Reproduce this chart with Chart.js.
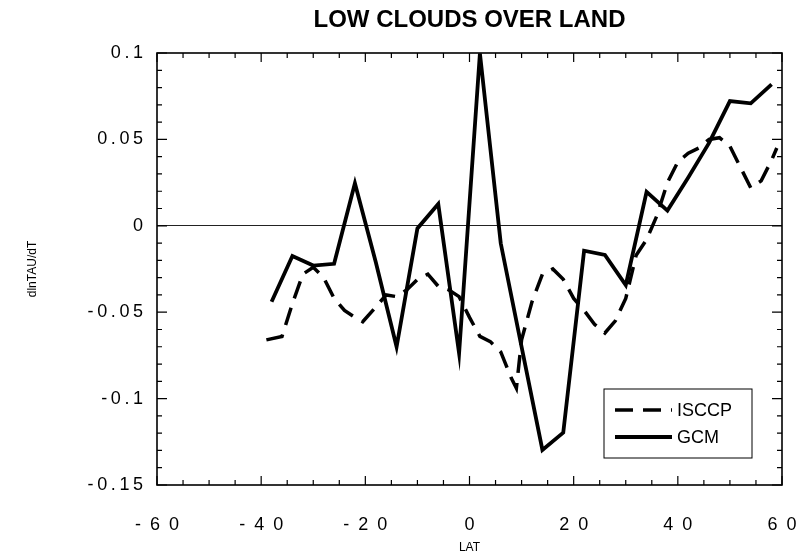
<!DOCTYPE html>
<html>
<head>
<meta charset="utf-8">
<script src="https://cdn.jsdelivr.net/npm/chart.js@4/dist/chart.umd.min.js"></script>
<style>
  html, body { margin: 0; padding: 0; background: #fff; }
  #wrap { width: 805px; height: 560px; }
</style>
</head>
<body>
<div id="wrap"><canvas id="cloudChart"></canvas></div>
<script>
// GCM, every 4 degrees of latitude
const gcmLat = [-38, -34, -30, -26, -22, -18, -14, -10, -6, -2, 2, 6, 10, 14, 18, 22, 26, 30, 34, 38, 42, 46, 50, 54, 58];
const gcmVal = [-0.044, -0.0175, -0.023, -0.022, 0.0246, -0.021, -0.070, -0.0015, 0.0126, -0.0738, 0.0998, -0.0101, -0.070, -0.1297, -0.1197,
	-0.0144, -0.0169, -0.0343, 0.0197, 0.0088, 0.028, 0.048, 0.0722, 0.0709, 0.0818];
// ISCCP
const isccpLat = [-39, -36, -34, -32, -30, -28, -26, -24, -22, -20.5, -18, -16, -14, -12, -10, -8, -6, -4, -2, 0, 2, 4, 6, 8, 9,
	10, 12, 14, 16, 18, 20, 22, 24, 26, 28, 30, 32, 34, 36, 38, 40, 42, 44, 46, 48, 50, 52, 54, 56, 58, 59];
const isccpVal = [-0.066, -0.064, -0.045, -0.028, -0.024, -0.030, -0.042, -0.049, -0.053, -0.0555, -0.047, -0.040, -0.041, -0.037, -0.031,
	-0.028, -0.035, -0.037, -0.041, -0.053, -0.064, -0.067, -0.073, -0.088, -0.094,
	-0.066, -0.044, -0.028, -0.025, -0.031, -0.042, -0.049, -0.057, -0.062, -0.055, -0.042, -0.017, -0.008, 0.006, 0.025,
	0.037, 0.042, 0.045, 0.050, 0.051, 0.046, 0.034, 0.022, 0.026, 0.038, 0.045];
const xTicks = [-60, -40, -20, 0, 20, 40, 60];
const yTicks = [-0.15, -0.1, -0.05, 0, 0.05, 0.1];

const FONT = "'Liberation Sans', Arial, Helvetica, sans-serif";

function pairs(xs, ys){
	return xs.map((v, i) => ({x: v, y: ys[i]}));
}

// inward tick marks on all four sides plus the frame
const frameTicks = {
	id: 'frameTicks',
	afterDatasetsDraw(chart){
		const ctx = chart.ctx, a = chart.chartArea;
		const x = chart.scales.x, y = chart.scales.y;
		ctx.save();
		ctx.strokeStyle = '#000';
		ctx.lineWidth = 1.2;
		ctx.beginPath();
		for (let v = xTicks[0]; v <= xTicks[xTicks.length - 1]; v += 5) {
			const px = x.getPixelForValue(v);
			const len = v % 20 === 0 ? 9 : 5;
			ctx.moveTo(px, a.bottom); ctx.lineTo(px, a.bottom - len);
			ctx.moveTo(px, a.top); ctx.lineTo(px, a.top + len);
		}
		for (let i = 0; i <= 25; i++) {
			const py = y.getPixelForValue(yTicks[0] + i * 0.01);
			const len = i % 5 === 0 ? 10 : 5;
			ctx.moveTo(a.left, py); ctx.lineTo(a.left + len, py);
			ctx.moveTo(a.right, py); ctx.lineTo(a.right - len, py);
		}
		ctx.stroke();
		ctx.lineWidth = 1.6;
		ctx.strokeRect(a.left, a.top, a.right - a.left, a.bottom - a.top);
		ctx.restore();
	}
};

// boxed legend in the lower right corner of the plot
const boxLegend = {
	id: 'boxLegend',
	afterDraw(chart){
		const ctx = chart.ctx, a = chart.chartArea;
		const bx = a.right - 178, by = a.bottom - 96, bw = 148, bh = 69;
		ctx.save();
		ctx.fillStyle = '#fff';
		ctx.fillRect(bx, by, bw, bh);
		ctx.strokeStyle = '#000';
		ctx.lineWidth = 1;
		ctx.strokeRect(bx, by, bw, bh);
		ctx.font = '18px ' + FONT;
		ctx.textBaseline = 'middle';
		ctx.fillStyle = '#000';
		chart.data.datasets.forEach((ds, i) => {
			const ly = by + 21 + i * 27;
			ctx.beginPath();
			ctx.lineWidth = ds.borderWidth;
			ctx.setLineDash(ds.borderDash || []);
			ctx.moveTo(bx + 11, ly);
			ctx.lineTo(bx + 68, ly);
			ctx.stroke();
			ctx.setLineDash([]);
			ctx.fillText(ds.label, bx + 73, ly + 1);
		});
		ctx.restore();
	}
};

Chart.defaults.font.family = FONT;
Chart.defaults.color = '#000';

const cloudChart = new Chart(document.querySelector('#cloudChart').getContext('2d'), {
	type: 'line',
	data: {
		datasets: [{
			label: 'ISCCP',
			data: pairs(isccpLat, isccpVal),
			borderColor: '#000',
			borderWidth: 3.5,
			borderDash: [18, 10],
			pointRadius: 0,
			fill: false
		}, {
			label: 'GCM',
			data: pairs(gcmLat, gcmVal),
			borderColor: '#000',
			borderWidth: 3.8,
			borderJoinStyle: 'miter',
			pointRadius: 0,
			fill: false
		}]
	},
	options: {
		responsive: true,
		maintainAspectRatio: false,
		animation: false,
		layout: { padding: { left: 0, right: 23, top: 0, bottom: 0 } },
		plugins: {
			legend: { display: false },
			tooltip: { enabled: false },
			title: {
				display: true,
				fullSize: false,
				text: 'LOW CLOUDS OVER LAND',
				font: { size: 24, weight: 'bold' },
				color: '#000',
				padding: { top: 6, bottom: 18.2 }
			}
		},
		scales: {
			x: {
				type: 'linear',
				min: -60,
				max: 60,
				afterBuildTicks: s => { s.ticks = xTicks.map(v => ({value: v})); },
				afterFit: s => { s.height = 75; s.paddingLeft = 0; s.paddingRight = 0; },
				ticks: {
					font: { size: 18 },
					padding: 21,
					maxRotation: 0,
					callback: v => String(v).split('').join('\u2002')
				},
				grid: { display: false },
				border: { display: false },
				title: { display: true, text: 'LAT', font: { size: 12 }, padding: { top: 0, bottom: 5 } }
			},
			y: {
				type: 'linear',
				min: -0.15,
				max: 0.1,
				afterBuildTicks: s => { s.ticks = yTicks.map(v => ({value: v})); },
				afterFit: s => { s.width = 157; },
				ticks: {
					font: { size: 18 },
					padding: 14,
					callback: v => String(+v.toFixed(2)).split('').join('\u2009')
				},
				grid: {
					drawTicks: false,
					lineWidth: 1,
					color: c => c.tick && c.tick.value === 0 ? '#222' : 'rgba(0,0,0,0)'
				},
				border: { display: false },
				title: { display: true, text: 'dlnTAU/dT', font: { size: 12 }, padding: { top: 25, bottom: 0 } }
			}
		}
	},
	plugins: [frameTicks, boxLegend]
});
</script>
</body>
</html>
